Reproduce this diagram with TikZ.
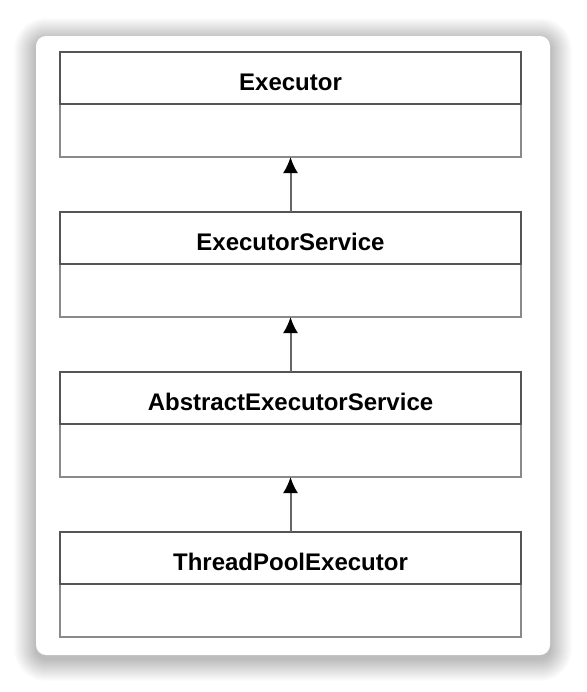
\documentclass[tikz,border=0pt]{standalone}
\usepackage{fontspec}
\setmainfont{Liberation Sans}
\usetikzlibrary{positioning, arrows.meta}

\definecolor{titleline}{HTML}{555555}
\definecolor{bodyline}{HTML}{8A8A8A}
\definecolor{arrowline}{HTML}{666666}

\tikzset{
    classtitle/.style={draw=titleline, line width=1pt, fill=white,
        minimum width=230.5pt, minimum height=26pt, inner sep=0pt, outer sep=0pt,
        text height=12.5pt, text depth=0pt,
        font=\fontsize{12}{14}\selectfont\bfseries},
    classbody/.style={draw=bodyline, line width=1pt, fill=white,
        minimum width=230.5pt, minimum height=26.5pt, inner sep=0pt, outer sep=0pt},
    inherits/.style={draw=arrowline, line width=1pt,
        -{Latex[black, length=8pt, width=7.5pt]}}
}

\begin{document}
\begin{tikzpicture}[x=0.5pt, y=-0.5pt, node distance=27.5pt]
    \useasboundingbox (0,0) rectangle (586,692);
    \fill[white] (0,0) rectangle (586,692);

    % Draw the card with a soft shadow
    \foreach \s in {1,...,22}
        \fill[black, opacity=0.011, rounded corners=5pt+0.5pt*\s]
            (36-\s,36-\s+4) rectangle (550+\s,655+\s+4);
    \fill[white, rounded corners=5pt] (36,36) rectangle (550,655);

    % Draw the classes
    \node[classtitle] (executor) at (290.5,78) {Executor};
    \node[classbody, below=0pt of executor] (executorbody) {};

    \node[classtitle, below=of executorbody] (service) {ExecutorService};
    \node[classbody, below=0pt of service] (servicebody) {};

    \node[classtitle, below=of servicebody] (abstract) {AbstractExecutorService};
    \node[classbody, below=0pt of abstract] (abstractbody) {};

    \node[classtitle, below=of abstractbody] (pool) {ThreadPoolExecutor};
    \node[classbody, below=0pt of pool] (poolbody) {};

    % Redraw the title boxes over the bodies
    \foreach \cls in {executor, service, abstract, pool}
        \draw[titleline, line width=1pt] (\cls.south west) rectangle (\cls.north east);

    % Draw the inheritance arrows
    \draw[inherits] (service) -- (executorbody);
    \draw[inherits] (abstract) -- (servicebody);
    \draw[inherits] (pool) -- (abstractbody);
\end{tikzpicture}
\end{document}
